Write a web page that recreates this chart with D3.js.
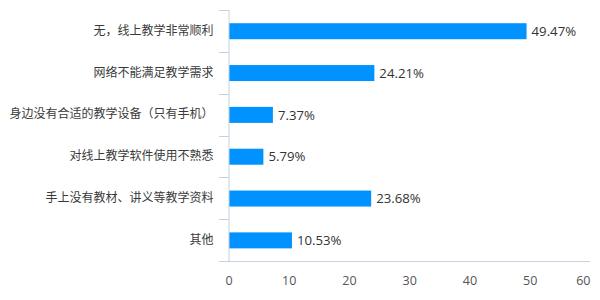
<!DOCTYPE html>
<html><head><meta charset="utf-8">
<script src="https://cdn.jsdelivr.net/npm/d3@7"></script>
<style>body{margin:0;background:#fff}svg{display:block}</style>
</head><body>
<svg id="c" width="600" height="300"></svg>
<script>
const categories = ["无，线上教学非常顺利","网络不能满足教学需求","身边没有合适的教学设备（只有手机）","对线上教学软件使用不熟悉","手上没有教材、讲义等教学资料","其他"];
const values = [49.47, 24.21, 7.37, 5.79, 23.68, 10.53];
const xTicks = [0,10,20,30,40,50,60];

const svg = d3.select("#c");
const font = "'Noto Sans CJK SC','Microsoft YaHei',sans-serif";
const numFont = "'Open Sans','Noto Sans CJK SC',sans-serif";
const L = 228.5, R = 590, T = 10, B = 261;
const x = d3.scaleLinear().domain([0,60]).range([L,R]);
const y = d3.scaleBand().domain(categories).range([T,B]).paddingInner(0).paddingOuter(0);
const axisColor = "#c5d1e0";

// bars
const bh = 16;
svg.selectAll("rect.bar").data(values).enter().append("rect")
  .attr("x", x(0)+0.5).attr("y",(d,i)=>y(categories[i])+y.bandwidth()/2-bh/2+0.3)
  .attr("width", d=>x(d)-x(0)-0.5).attr("height", bh).attr("fill","#0092ff");

svg.selectAll("text.val").data(values).enter().append("text")
  .attr("x", d=>x(d)+5).attr("y",(d,i)=>y(categories[i])+y.bandwidth()/2+0.3)
  .attr("dy","0.35em").attr("font-family",numFont).attr("font-size",13.2).attr("fill","#333")
  .text(d=>d.toFixed(2)+"%");

// y axis
const ya = svg.append("g").attr("transform",`translate(${L},0)`)
  .call(d3.axisLeft(y).tickSize(0).tickPadding(15));
ya.select(".domain").attr("stroke",axisColor).attr("d",`M0.5,${T}V${B}`);
ya.selectAll("text").attr("font-family",font).attr("font-size",12).attr("fill","#3a3a3a");
// band boundary ticks
const bounds = categories.map(c=>y(c));
svg.selectAll("line.yt").data(bounds).enter().append("line")
  .attr("x1",L-9.5).attr("x2",L+0.5).attr("y1",d=>Math.round(d)+0.5).attr("y2",d=>Math.round(d)+0.5)
  .attr("stroke",axisColor);

// x axis
const xa = svg.append("g").attr("transform",`translate(0,${B})`)
  .call(d3.axisBottom(x).tickValues(xTicks).tickSize(0).tickPadding(15));
xa.select(".domain").attr("stroke",axisColor).attr("d",`M${L-9.5},0.5H${R}`);
xa.selectAll("text").attr("font-family",numFont).attr("font-size",12.5).attr("fill","#555")
  .attr("text-anchor",d=>d===60?"end":"middle");
</script>
</body></html>
